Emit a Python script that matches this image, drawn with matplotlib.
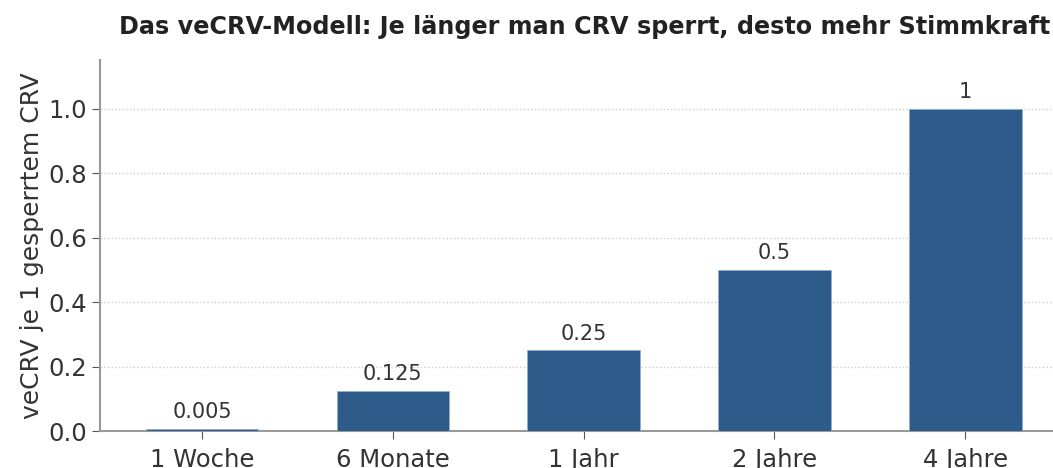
import matplotlib
matplotlib.use("Agg")
import matplotlib.pyplot as plt

# Daten
kategorien = ["1 Woche", "6 Monate", "1 Jahr", "2 Jahre", "4 Jahre"]
vecrv = [0.005, 0.125, 0.25, 0.5, 1.0]
beschriftung = ["0.005", "0.125", "0.25", "0.5", "1"]

fig = plt.figure(figsize=(10.53, 4.68), dpi=100)
ax = fig.add_axes([0.095, 0.079, 0.905, 0.793])

x = range(len(kategorien))
bars = ax.bar(x, vecrv, width=0.59, color="#2e5c8a", edgecolor="#8fb0d0", linewidth=0.6, zorder=3)

for b, t in zip(bars, beschriftung):
    ax.annotate(t, (b.get_x() + b.get_width() / 2, b.get_height()),
                xytext=(0, 5), textcoords="offset points",
                ha="center", va="bottom", fontsize=15, color="#333333")

ax.set_xticks(list(x))
ax.set_xticklabels(kategorien)
ax.tick_params(colors="#555555", length=6)
ax.tick_params(axis="both", labelsize=17.5, labelcolor="#333333")
ax.tick_params(axis="x", pad=6)
ax.set_ylim(0, 1.152)
ax.set_xlim(-0.535, 4.46)
ax.set_yticks([0.0, 0.2, 0.4, 0.6, 0.8, 1.0])
ax.set_ylabel("veCRV je 1 gesperrtem CRV", fontsize=18, color="#333333", labelpad=3)

ax.grid(axis="y", linestyle=":", color="#cccccc", linewidth=1, zorder=0)
ax.spines["top"].set_visible(False)
ax.spines["right"].set_visible(False)
ax.spines["left"].set_color("#999999")
ax.spines["bottom"].set_color("#999999")
ax.spines["left"].set_linewidth(1.5)
ax.spines["bottom"].set_linewidth(1.5)

fig.text(0.555, 0.942, "Das veCRV-Modell: Je länger man CRV sperrt, desto mehr Stimmkraft",
         ha="center", va="center", fontsize=17.2, fontweight="bold", color="#222222")

fig.savefig("out.png", dpi=100)
